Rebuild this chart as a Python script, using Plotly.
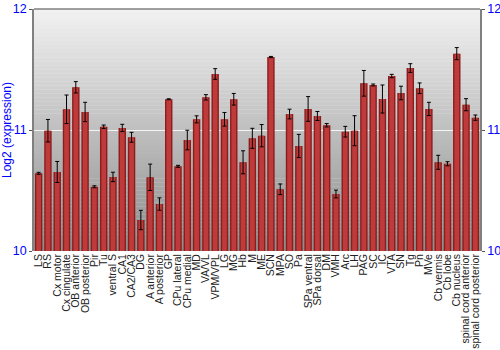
import plotly.graph_objects as go

categories = ["LS", "RS", "Cx motor", "Cx cingulate", "OB anterior", "OB posterior", "Pir", "Tu",
              "ventral S", "CA1", "CA2/CA3", "DG", "A anterior", "A posterior", "GP", "CPu lateral",
              "CPu medial", "MD", "VA/VL", "VPM/VPL", "LG", "MG", "Hb", "M", "ME", "SCN", "MPA", "SO",
              "Pa", "SPa ventral", "SPa dorsal", "DM", "VMH", "Arc", "LH", "PAG", "SC", "IC", "VTA",
              "SN", "Tg", "Pn", "MVe", "Cb vermis", "Cb lobe", "Cb nucleus",
              "spinal cord anterior", "spinal cord posterior"]

values = [10.642, 10.994, 10.653, 11.171, 11.353, 11.149, 10.531, 11.027,
          10.612, 11.017, 10.940, 10.256, 10.609, 10.388, 11.254, 10.700,
          10.917, 11.088, 11.270, 11.463, 11.088, 11.254, 10.733, 10.931, 10.953, 11.603, 10.510, 11.132,
          10.868, 11.174, 11.116, 11.039, 10.471, 10.986, 10.994, 11.386, 11.372, 11.256, 11.446,
          11.306, 11.512, 11.345, 11.174, 10.733, 10.721, 11.631,
          11.209, 11.102]

errors = [0.008, 0.093, 0.087, 0.118, 0.047, 0.080, 0.008, 0.014,
          0.039, 0.030, 0.041, 0.080, 0.109, 0.051, 0.004, 0.008,
          0.081, 0.029, 0.022, 0.044, 0.056, 0.048, 0.095, 0.083, 0.092, 0.005, 0.044, 0.040,
          0.096, 0.102, 0.037, 0.014, 0.032, 0.044, 0.124, 0.106, 0.008, 0.116, 0.014,
          0.056, 0.036, 0.044, 0.055, 0.058, 0.017, 0.050,
          0.050, 0.022]

y_range = [10, 12]
y_ticks = [10, 11, 12]

fig = go.Figure()

# base bar (dark edges)
fig.add_trace(go.Bar(
    x=categories, y=values,
    marker=dict(color="#8c1d1d", line=dict(width=0)),
    width=0.8, hoverinfo="skip", showlegend=False,
))
# lighter centre
fig.add_trace(go.Bar(
    x=categories, y=values,
    marker=dict(color="#bf3b3b", line=dict(width=0)),
    width=0.5, hoverinfo="skip", showlegend=False,
    error_y=dict(type="data", array=errors, color="black", thickness=1, width=2),
))
# invisible trace for right axis
fig.add_trace(go.Scatter(x=categories, y=values, yaxis="y2", mode="none",
                         showlegend=False, hoverinfo="skip"))

# background gradient bands
shapes = []
n = 60
top = (0xf2, 0xf2, 0xf2)
bot = (0x8c, 0x8c, 0x8c)
for i in range(n):
    t = (i + 0.5) / n
    c = tuple(int(round(top[k] + (bot[k] - top[k]) * t)) for k in range(3))
    shapes.append(dict(type="rect", xref="paper", yref="paper",
                       x0=0, x1=1, y0=1 - (i + 1) / n, y1=1 - i / n + 0.001,
                       fillcolor="rgb(%d,%d,%d)" % c, line=dict(width=0), layer="below"))
shapes.append(dict(type="line", xref="paper", yref="paper", x0=0, x1=1, y0=1, y1=1,
                   line=dict(color="#808080", width=1.5)))

axis_font = dict(family="Liberation Sans, Arial", size=12.5, color="blue")

fig.update_layout(
    width=500, height=350,
    margin=dict(l=34, r=20, t=9, b=99),
    paper_bgcolor="white", plot_bgcolor="rgba(0,0,0,0)",
    barmode="overlay",
    shapes=shapes,
    font=dict(family="Liberation Sans, Arial", size=10, color="black"),
    xaxis=dict(tickangle=-90, tickfont=dict(size=10.5, color="#222"), showgrid=False,
               tickmode="array", tickvals=categories, ticktext=categories,
               showline=False, ticks="", range=[-0.5, len(categories) - 0.5],
               automargin=False),
    yaxis=dict(range=y_range, tickvals=y_ticks, tickfont=axis_font,
               showgrid=True, gridcolor="#f4f4f4", gridwidth=1.3,
               showline=True, linecolor="#808080", linewidth=1.5,
               ticks="outside", ticklen=3, tickcolor="#555", ticklabelstandoff=0,
               title=dict(text="Log2 (expression)", font=dict(family="Liberation Sans, Arial", size=12, color="blue"),
                          standoff=4),
               zeroline=False, automargin=False),
    yaxis2=dict(range=y_range, tickvals=y_ticks, tickfont=axis_font, overlaying="y", side="right",
                showgrid=False, showline=True, linecolor="#808080", linewidth=1.5,
                ticks="outside", ticklen=3, tickcolor="#555", ticklabelstandoff=0,
                zeroline=False, automargin=False),
)

fig.write_html("out.html")
